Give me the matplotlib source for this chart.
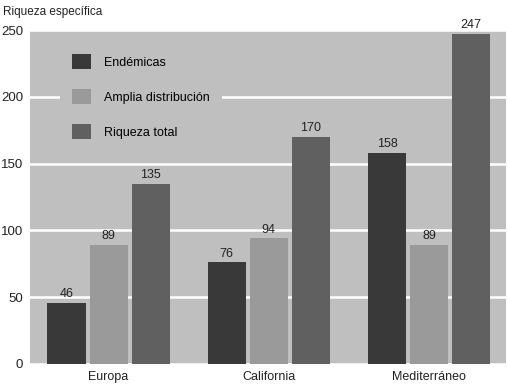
import numpy as np
import matplotlib
matplotlib.use("Agg")
from matplotlib import pyplot as plt

plt.rcParams['font.family'] = ['Liberation Sans', 'DejaVu Sans']

regiones = ["Europa", "California", "Mediterráneo"]
series = ["Endémicas", "Amplia distribución", "Riqueza total"]
endemicas = [46, 76, 158]
amplia = [89, 94, 89]
riqueza_total = [135, 170, 247]
yticks = [0, 50, 100, 150, 200, 250]

colores = ["#393939", "#9a9a9a", "#606060"]

fig = plt.figure(figsize=(5.09, 3.86), dpi=100)
ax = fig.add_axes([0.059, 0.057, 0.935, 0.865])
ax.set_facecolor("#bfbfbf")

x = np.arange(len(regiones))
step = 0.2625
width = 0.2375
for i, (vals, name) in enumerate(zip([endemicas, amplia, riqueza_total], series)):
    bars = ax.bar(x + (i - 1) * step, vals, width, color=colores[i], label=name, zorder=3)
    for b, v in zip(bars, vals):
        ax.text(b.get_x() + b.get_width() / 2, v + 2, str(v), ha="center", va="bottom",
                fontsize=9, color="#222222", zorder=4)

ax.set_xlim(-0.49, 2.48)
ax.set_ylim(0, 250)
ax.set_yticks(yticks)
ax.set_xticks(x)
ax.set_xticklabels(regiones, fontsize=9)
ax.tick_params(axis="y", labelsize=9.5, length=0, pad=5, labelcolor="#222222")
ax.tick_params(axis="x", length=0, pad=5, labelcolor="#222222")
ax.grid(axis="y", color="white", linewidth=1.8, zorder=1)
for s in ax.spines.values():
    s.set_visible(False)

leg = ax.legend(loc="upper left", bbox_to_anchor=(0.062, 0.967), frameon=True,
                fontsize=9, handlelength=1.55, handleheight=1.55, labelspacing=1.55,
                handletextpad=1.0, borderpad=1.0, borderaxespad=0)
leg.get_frame().set_facecolor("#bfbfbf")
leg.get_frame().set_edgecolor("none")
leg.get_frame().set_alpha(1)
leg.get_frame().set_boxstyle("square", pad=0)
leg.set_zorder(5)

fig.text(0.006, 0.968, "Riqueza específica", fontsize=8.5, ha="left", va="center", color="#222222")

fig.savefig("out.png", dpi=100)
